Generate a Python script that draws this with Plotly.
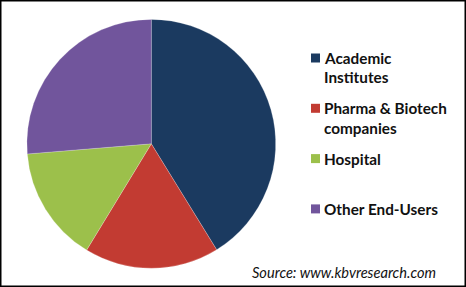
import plotly.graph_objects as go

labels = ["Academic Institutes", "Pharma & Biotech companies", "Hospital", "Other End-Users"]
values = [41.2, 17.5, 15.0, 26.3]
colors = ["#1b3a60", "#c23b32", "#9cc04b", "#71559c"]
legend_lines = [["Academic", "Institutes"], ["Pharma & Biotech", "companies"], ["Hospital"], ["Other End-Users"]]
source_text = "Source: www.kbvresearch.com"

W, H = 466, 287
cx, cy, r = 151.3, 143.8, 124.4

fig = go.Figure()
fig.add_trace(go.Pie(
    labels=labels, values=values, sort=False, direction="clockwise", rotation=0,
    marker=dict(colors=colors, line=dict(color="rgba(255,255,255,0.35)", width=0.6)),
    textinfo="none", hoverinfo="label+percent", showlegend=False,
    domain=dict(x=[(cx - r) / W, (cx + r) / W], y=[1 - (cy + r) / H, 1 - (cy - r) / H]),
))

annotations = []
shapes = []
font_family = "Lato"
legend_y0 = 58
legend_step = 50.3
line_step = 19.3
sq = 9
sq_x0 = 311
text_x = 322
for i, lines in enumerate(legend_lines):
    y = legend_y0 + i * legend_step
    shapes.append(dict(type="rect", xref="paper", yref="paper",
                       x0=sq_x0 / W, x1=(sq_x0 + sq) / W,
                       y0=1 - (y + sq / 2) / H, y1=1 - (y - sq / 2) / H,
                       fillcolor=colors[i], line=dict(width=0)))
    for j, t in enumerate(lines):
        annotations.append(dict(text="<b>" + t + "</b>", x=text_x / W, y=1 - (y + j * line_step) / H,
                                xref="paper", yref="paper", xanchor="left", yanchor="middle",
                                showarrow=False, font=dict(family=font_family, size=15.3, color="#111111")))

annotations.append(dict(text="<i>" + source_text + "</i>", x=250 / W, y=1 - 272 / H,
                        xref="paper", yref="paper", xanchor="left", yanchor="middle",
                        showarrow=False, font=dict(family=font_family, size=14.6, color="#111111")))

shapes.append(dict(type="rect", xref="paper", yref="paper", x0=0, x1=1, y0=0, y1=1,
                   line=dict(color="#000000", width=3), fillcolor="rgba(0,0,0,0)"))

fig.update_layout(width=W, height=H, margin=dict(l=0, r=0, t=0, b=0),
                  paper_bgcolor="white", plot_bgcolor="white",
                  annotations=annotations, shapes=shapes)
fig.write_html("out.html")
